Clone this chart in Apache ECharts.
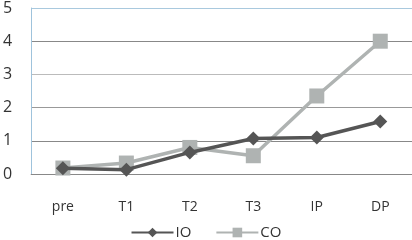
<!DOCTYPE html>
<html><head><meta charset="utf-8">
<script src="https://cdn.jsdelivr.net/npm/echarts@6/dist/echarts.min.js"></script>
<style>html,body{margin:0;padding:0;background:#fff}#c{width:412px;height:240px}</style>
</head><body><div id="c"></div>
<script>
const categories = ['pre','T1','T2','T3','IP','DP'];
const ioValues = [0.17, 0.13, 0.65, 1.07, 1.1, 1.58];
const coValues = [0.18, 0.33, 0.8, 0.55, 2.35, 4.0];
const yTicks = [0,1,2,3,4,5];

const chart = echarts.init(document.getElementById('c'), null, {renderer:'canvas'});
chart.setOption({
  animation:false,
  grid:{left:27, top:8, width:402, height:166, containLabel:false},
  xAxis:{type:'category', data:categories, boundaryGap:true,
    axisLine:{show:true, lineStyle:{color:'#888', width:1}},
    axisTick:{show:false},
    axisLabel:{color:'#333', fontSize:14, fontFamily:'Open Sans', margin:26}},
  yAxis:{type:'value', min:0, max:5, interval:1,
    axisLine:{show:true, lineStyle:{color:'#9fc3dc', width:1}},
    axisTick:{show:false},
    axisLabel:{color:'#333', fontSize:16, fontFamily:'Open Sans', margin:19,
      formatter:v=>yTicks.includes(v)?String(v):''},
    splitLine:{show:true, lineStyle:{color:['#888','#888','#999','#bbb','#888','#a9c9de'], width:1}}},
  legend:{bottom:-5, left:'center', itemWidth:42, itemHeight:12, itemGap:24,
    textStyle:{color:'#333', fontSize:15, fontFamily:'Open Sans', padding:[0,0,0,-3]},
    data:['IO','CO']},
  series:[
    {name:'IO', type:'line', data:ioValues, symbol:'diamond', symbolSize:14,
      lineStyle:{color:'#555', width:3.5}, itemStyle:{color:'#555'}, z:3},
    {name:'CO', type:'line', data:coValues, symbol:'rect', symbolSize:15,
      lineStyle:{color:'#afb3b2', width:3.5}, itemStyle:{color:'#afb3b2'}, z:2}
  ]
});
</script></body></html>
